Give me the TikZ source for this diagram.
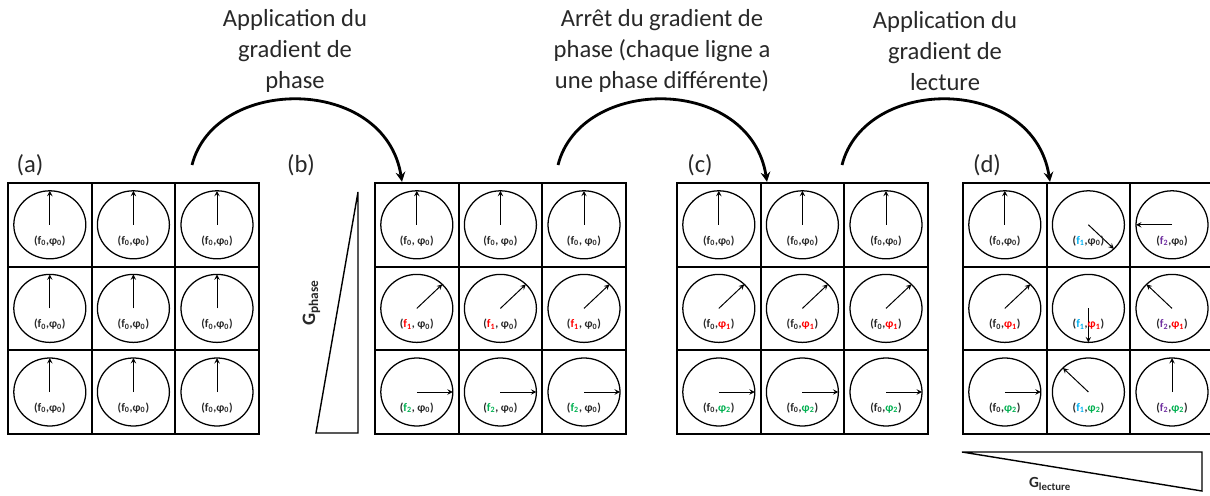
\documentclass[tikz,border=0pt]{standalone}
\usepackage{fontspec}
\setmainfont{Carlito}
\definecolor{ink}{RGB}{40,40,40}
\definecolor{fred}{RGB}{255,0,0}
\definecolor{fgreen}{RGB}{0,176,80}
\definecolor{fcyan}{RGB}{0,176,240}
\definecolor{fpurple}{RGB}{112,48,160}
\newcommand{\fsub}[1]{f\textsubscript{#1}}
\newcommand{\psub}[1]{φ\textsubscript{#1}}
\tikzset{
  cellbox/.style={draw, rectangle, minimum width=2.09cm, minimum height=2.09cm, inner sep=0pt, line width=1.4pt},
  dial/.style={line width=0.9pt},
  hand/.style={->, line width=0.7pt},
  tag/.style={font=\bfseries\fontsize{8.2}{9}\selectfont, text=ink, inner sep=0pt},
  title/.style={align=center, font=\fontsize{17.5}{22}\selectfont, text=ink},
  panel/.style={font=\fontsize{17.5}{20}\selectfont, text=ink}
}
\newcommand{\spincell}[5]{%
  \node[cellbox] (#1) at (#2,#3) {};
  \draw[dial] (#1.center) ellipse [x radius=0.9cm, y radius=0.85cm];
  \draw[hand] (#1.center) -- ++({0.9*cos(#4)},{0.85*sin(#4)});
  \node[tag] (#1t) at ([yshift=-0.4cm]#1.center) {#5};
}
\begin{document}
\begin{tikzpicture}[>=stealth]
\useasboundingbox (0,0) rectangle (30.25,12.375);

\foreach \r in {0,1,2} \foreach \c in {0,1,2}
  {\spincell{a\r\c}{1.245+2.09*\c}{6.755-2.09*\r}{90}{(\fsub{0},\psub{0})}}
\foreach \r/\ang/\col in {0/90/ink, 1/45/fred, 2/0/fgreen} \foreach \c in {0,1,2}
  {\spincell{b\r\c}{10.42+2.09*\c}{6.755-2.09*\r}{\ang}{(\textcolor{\col}{\fsub{\r}}, \psub{0})}}
\foreach \r/\ang/\col in {0/90/ink, 1/45/fred, 2/0/fgreen} \foreach \c in {0,1,2}
  {\spincell{c\r\c}{17.97+2.09*\c}{6.755-2.09*\r}{\ang}{(\fsub{0},\textcolor{\col}{\psub{\r}})}}
\foreach \r/\c/\ang/\fc/\pc in {0/0/90/ink/ink, 0/1/-45/fcyan/ink, 0/2/180/fpurple/ink,
    1/0/45/ink/fred, 1/1/-90/fcyan/fred, 1/2/135/fpurple/fred,
    2/0/0/ink/fgreen, 2/1/135/fcyan/fgreen, 2/2/90/fpurple/fgreen}
  {\spincell{d\r\c}{25.12+2.09*\c}{6.755-2.09*\r}{\ang}{(\textcolor{\fc}{\fsub{\c}},\textcolor{\pc}{\psub{\r}})}}

\node[panel] (la) at (0.75,8.25) {(a)};
\node[panel] (lb) at (7.525,8.25) {(b)};
\node[panel] (lc) at (17.5,8.25) {(c)};
\node[panel] (ld) at (24.675,8.25) {(d)};

\node[title] (t1) at (7.375,11.1) {Application du\\gradient de\\phase};
\node[title] (t2) at (16.55,11.1) {Arrêt du gradient de\\phase (chaque ligne a\\une phase différente)};
\node[title] (t3) at (23.625,11.1) {Application du\\gradient de\\lecture};

\coordinate (s1) at (4.8,8.25);
\coordinate (e1) at (10.05,7.83);
\coordinate (s2) at (13.95,8.25);
\coordinate (e2) at (19.175,7.83);
\coordinate (s3) at (21.05,8.25);
\coordinate (e3) at (26.25,7.83);
\draw[->, line width=2pt] (s1) .. controls (5.375,10.5) and (9.625,10.5) .. (e1);
\draw[->, line width=2pt] (s2) .. controls (14.525,10.5) and (18.75,10.5) .. (e2);
\draw[->, line width=2pt] (s3) .. controls (21.625,10.5) and (25.825,10.5) .. (e3);

\draw[line width=1pt] (8.95,7.575) -- (8.95,1.55) -- (7.9,1.55) -- cycle;
\node[anchor=base, rotate=90, text=ink, font=\bfseries\fontsize{13.5}{15}\selectfont] (gp) at (7.875,4.8) {G\textsubscript{phase}};
\draw[line width=1pt] (24.05,1.075) -- (30.05,1.075) -- (30.05,0.1) -- cycle;
\node[anchor=base, text=ink, font=\bfseries\fontsize{11}{13}\selectfont] (gl) at (26.25,0.18) {G\textsubscript{lecture}};
\end{tikzpicture}
\end{document}
